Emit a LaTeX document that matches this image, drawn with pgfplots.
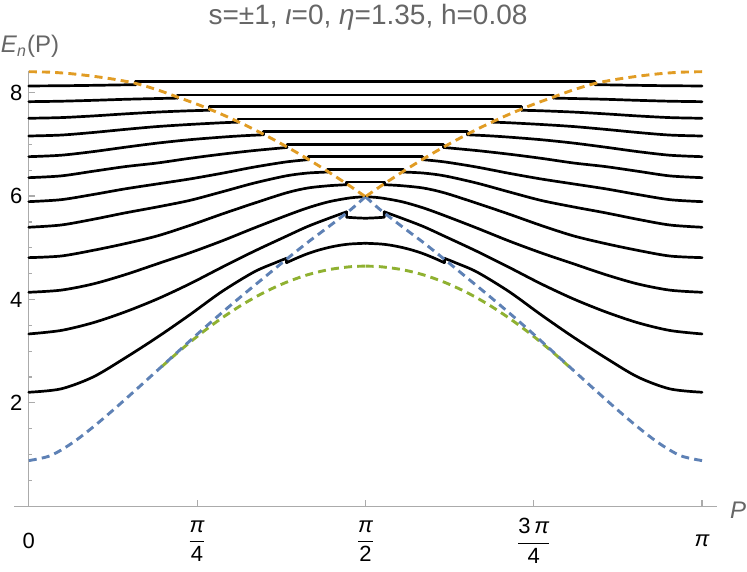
\documentclass[border=0pt]{standalone}
\usepackage{amsmath}
\usepackage{fontspec}
\setmainfont{Liberation Sans}
\usepackage{pgfplots}
\usepackage{pgfplotstable}
\pgfplotsset{compat=1.18}
\definecolor{mblue}{HTML}{5E81B5}
\definecolor{morange}{HTML}{E19C24}
\definecolor{mgreen}{HTML}{8FB131}
\definecolor{axgray}{HTML}{ABABAB}
\definecolor{txtgray}{HTML}{666666}

% band edges (left half, mirrored for right half)
\pgfplotstableread{
P E
0 0.883
0.1 0.977
0.2 1.216
0.3 1.532
0.4 1.884
0.5 2.253
0.6 2.628
0.7 3.005
0.8 3.379
0.9 3.740
1.0 4.090
1.1 4.430
1.2 4.770
1.3 5.100
1.4 5.410
1.5 5.730
1.5708 5.988
}\blueT
\pgfplotstableread{
P E
0 8.406
0.1 8.396
0.2 8.366
0.3 8.318
0.4 8.258
0.5 8.178
0.6 8.055
0.7 7.906
0.8 7.753
0.9 7.582
1.0 7.393
1.1 7.186
1.2 6.962
1.3 6.721
1.4 6.463
1.5 6.190
1.5708 5.988
}\orangeT
\pgfplotstableread{
P E
0.62 2.698
0.7 2.992
0.8 3.332
0.9 3.638
1.0 3.909
1.1 4.140
1.2 4.329
1.3 4.476
1.4 4.577
1.5 4.633
1.5708 4.645
}\greenT
% black levels, outside parts (left half)
\pgfplotstableread{
P E
0 8.130
0.15 8.134
0.3 8.142
0.42 8.150
0.499 8.155
}\cL
\pgfplotstableread{
P E
0 7.826
0.15 7.835
0.3 7.852
0.45 7.872
0.6 7.887
0.694 7.895
}\cK
\pgfplotstableread{
P E
0 7.505
0.15 7.518
0.3 7.550
0.45 7.590
0.6 7.625
0.75 7.650
0.843 7.660
}\cJ
\pgfplotstableread{
P E
0 7.162
0.15 7.180
0.3 7.230
0.45 7.290
0.6 7.345
0.75 7.385
0.9 7.418
0.976 7.430
}\cI
\pgfplotstableread{
P E
0 6.762
0.15 6.790
0.3 6.860
0.45 6.945
0.6 7.025
0.75 7.090
0.9 7.140
1.0 7.167
1.094 7.185
}\cH
\pgfplotstableread{
P E
0 6.356
0.15 6.390
0.3 6.480
0.45 6.570
0.6 6.640
0.75 6.730
0.9 6.810
1.05 6.880
1.205 6.940
}\cG
\pgfplotstableread{
P E
0 5.892
0.15 5.930
0.3 6.030
0.45 6.140
0.6 6.235
0.75 6.330
0.9 6.440
1.05 6.560
1.2 6.660
1.305 6.705
}\cF
\pgfplotstableread{
P E
0 5.397
0.15 5.440
0.3 5.550
0.45 5.675
0.6 5.790
0.75 5.915
0.9 6.080
1.05 6.250
1.2 6.390
1.3 6.445
1.394 6.465
}\cE
\pgfplotstableread{
P E
0 4.809
0.15 4.840
0.3 4.950
0.45 5.080
0.6 5.230
0.75 5.430
0.9 5.650
1.05 5.860
1.2 6.060
1.3 6.155
1.4 6.200
1.483 6.220
}\cD
\pgfplotstableread{
P E
0 4.139
0.15 4.180
0.3 4.300
0.45 4.480
0.6 4.690
0.75 4.900
0.9 5.130
1.05 5.380
1.2 5.620
1.3 5.770
1.4 5.890
1.5 5.965
1.5708 5.988
}\cC
\pgfplotstableread{
P E
0 3.333
0.15 3.400
0.3 3.550
0.45 3.760
0.6 4.010
0.75 4.300
0.9 4.620
1.05 4.930
1.2 5.220
1.3 5.410
1.4 5.570
1.483 5.695
}\cB
\pgfplotstableread{
P E
0 2.205
0.15 2.270
0.3 2.500
0.45 2.870
0.6 3.270
0.75 3.700
0.9 4.150
1.05 4.530
1.15 4.710
1.203 4.797
}\cA
\pgfplotstableread{
P E
1.203 4.712
1.25 4.800
1.3 4.884
1.35 4.952
1.4 5.006
1.45 5.047
1.5 5.073
1.5708 5.087
}\cAin

\begin{document}
\begin{tikzpicture}
\begin{axis}[
  scale only axis, width=351.5pt, height=217.4pt,
  xmin=-0.069, xmax=3.211, ymin=0, ymax=8.41,
  enlargelimits=false,
  axis lines=middle,
  axis line style={draw=axgray, line width=0.6pt, -},
  hide obscured x ticks=false, hide obscured y ticks=false,
  xtick={0,0.785398,1.570796,2.356194,3.141593},
  xticklabels={0,
    {$\dfrac{\text{\itshape π}}{\text{4}}$},
    {$\dfrac{\text{\itshape π}}{\text{2}}$},
    {$\dfrac{\text{3\,\itshape π}}{\text{4}}$},
    {\itshape π}},
  ytick={2,4,6,8}, yticklabels={2,4,6,8},
  minor ytick={0.5,1,1.5,2.5,3,3.5,4.5,5,5.5,6.5,7,7.5},
  tick style={draw=axgray, line width=0.6pt},
  major tick length=3pt, minor tick length=1.8pt,
  tick align=inside,
  xticklabel style={anchor=center, yshift=-17.5pt, font=\fontsize{11}{13}\selectfont},
  yticklabel style={anchor=east, inner sep=0pt, xshift=-3pt, font=\fontsize{11}{13}\selectfont},
  clip=false,
  blk/.style={black, line width=1.35pt, line join=round, line cap=round},
  dsh/.style={line width=1.45pt, dash pattern=on 4pt off 2.6pt},
]
% bounding box of the whole figure
\path (axis cs:-0.13439,-1.2708) rectangle (axis cs:3.35138,9.7930);

% black levels: outside parts, left and mirrored right
\addplot[blk, smooth] table[x=P, y=E] {\cA};
\addplot[blk, smooth] table[x expr={3.141593-\thisrow{P}}, y=E] {\cA};
\addplot[blk, smooth] table[x=P, y=E] {\cB};
\addplot[blk, smooth] table[x expr={3.141593-\thisrow{P}}, y=E] {\cB};
\addplot[blk, smooth] table[x=P, y=E] {\cC};
\addplot[blk, smooth] table[x expr={3.141593-\thisrow{P}}, y=E] {\cC};
\addplot[blk, smooth] table[x=P, y=E] {\cD};
\addplot[blk, smooth] table[x expr={3.141593-\thisrow{P}}, y=E] {\cD};
\addplot[blk, smooth] table[x=P, y=E] {\cE};
\addplot[blk, smooth] table[x expr={3.141593-\thisrow{P}}, y=E] {\cE};
\addplot[blk, smooth] table[x=P, y=E] {\cF};
\addplot[blk, smooth] table[x expr={3.141593-\thisrow{P}}, y=E] {\cF};
\addplot[blk, smooth] table[x=P, y=E] {\cG};
\addplot[blk, smooth] table[x expr={3.141593-\thisrow{P}}, y=E] {\cG};
\addplot[blk, smooth] table[x=P, y=E] {\cH};
\addplot[blk, smooth] table[x expr={3.141593-\thisrow{P}}, y=E] {\cH};
\addplot[blk, smooth] table[x=P, y=E] {\cI};
\addplot[blk, smooth] table[x expr={3.141593-\thisrow{P}}, y=E] {\cI};
\addplot[blk, smooth] table[x=P, y=E] {\cJ};
\addplot[blk, smooth] table[x expr={3.141593-\thisrow{P}}, y=E] {\cJ};
\addplot[blk, smooth] table[x=P, y=E] {\cK};
\addplot[blk, smooth] table[x expr={3.141593-\thisrow{P}}, y=E] {\cK};
\addplot[blk, smooth] table[x=P, y=E] {\cL};
\addplot[blk, smooth] table[x expr={3.141593-\thisrow{P}}, y=E] {\cL};
% inside parts with steps
\addplot[blk] coordinates {(0.499,8.155) (0.499,8.212) (2.642593,8.212) (2.642593,8.155)};
\addplot[blk] coordinates {(0.694,7.895) (0.694,7.955) (2.447593,7.955) (2.447593,7.895)};
\addplot[blk] coordinates {(0.843,7.660) (0.843,7.730) (2.298593,7.730) (2.298593,7.660)};
\addplot[blk] coordinates {(0.976,7.430) (0.976,7.490) (2.165593,7.490) (2.165593,7.430)};
\addplot[blk] coordinates {(1.094,7.185) (1.094,7.250) (2.047593,7.250) (2.047593,7.185)};
\addplot[blk] coordinates {(1.205,6.940) (1.205,7.002) (1.936593,7.002) (1.936593,6.940)};
\addplot[blk] coordinates {(1.305,6.705) (1.305,6.762) (1.836593,6.762) (1.836593,6.705)};
\addplot[blk] coordinates {(1.394,6.465) (1.394,6.518) (1.747593,6.518) (1.747593,6.465)};
\addplot[blk] coordinates {(1.483,6.220) (1.483,6.275) (1.658593,6.275) (1.658593,6.220)};
\addplot[blk] coordinates {(1.483,5.695) (1.483,5.590) (1.530,5.578) (1.5708,5.571) (1.6116,5.578) (1.658593,5.590) (1.658593,5.695)};
\addplot[blk] coordinates {(1.203,4.797) (1.203,4.712)};
\addplot[blk] coordinates {(1.938593,4.712) (1.938593,4.797)};
\addplot[blk, smooth] table[x=P, y=E] {\cAin};
\addplot[blk, smooth] table[x expr={3.141593-\thisrow{P}}, y=E] {\cAin};

% dashed band edges
\addplot[dsh, mgreen, smooth] table[x=P, y=E] {\greenT};
\addplot[dsh, mgreen, smooth] table[x expr={3.141593-\thisrow{P}}, y=E] {\greenT};
\addplot[dsh, mblue, smooth] table[x=P, y=E] {\blueT};
\addplot[dsh, mblue, smooth] table[x expr={3.141593-\thisrow{P}}, y=E] {\blueT};
\addplot[dsh, morange, smooth] table[x=P, y=E] {\orangeT};
\addplot[dsh, morange, smooth] table[x expr={3.141593-\thisrow{P}}, y=E] {\orangeT};

% labels
\node[inner sep=0pt, font=\fontsize{14}{16}\selectfont, text=txtgray] at (axis cs:1.583,9.464)
  {s=±1, \textit{ι}=0, \textit{η}=1.35, h=0.08};
\node[inner sep=0pt, font=\fontsize{12}{14}\selectfont, text=txtgray] at (axis cs:0.0056,8.894)
  {\textit{E}\textsubscript{\textit{n}}(P)};
\node[inner sep=0pt, font=\fontsize{12}{14}\selectfont\itshape, text=txtgray] at (axis cs:3.3094,-0.07) {P};
\end{axis}
\end{tikzpicture}
\end{document}
